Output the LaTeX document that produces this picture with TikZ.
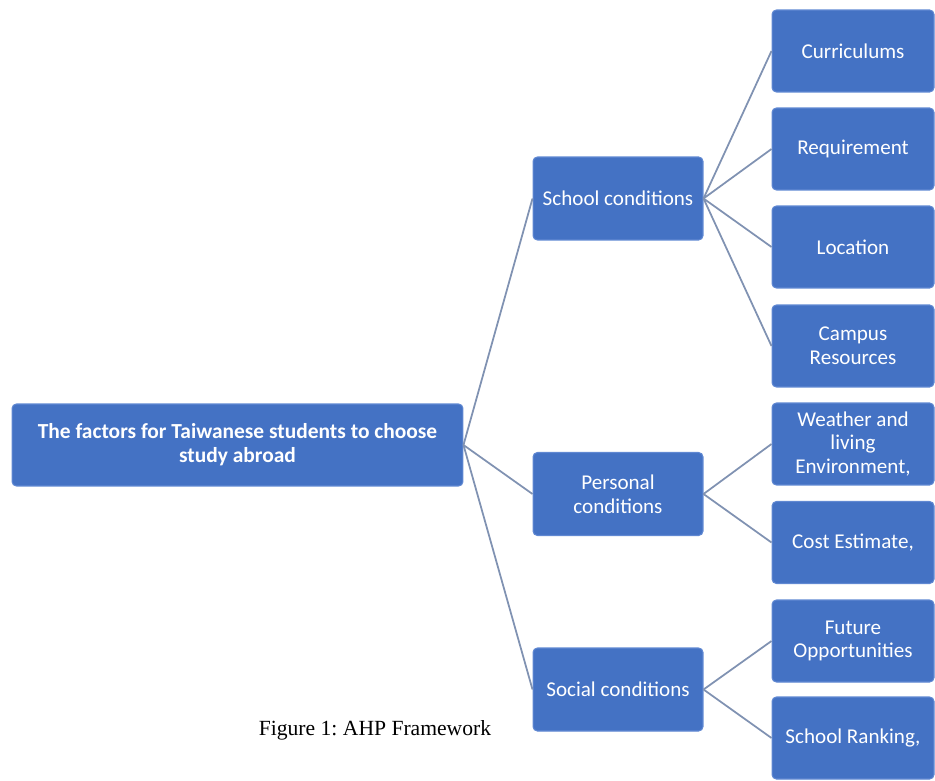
\documentclass[tikz,border=0pt]{standalone}
\usepackage{fontspec}
\setmainfont{Liberation Serif}
\newfontfamily\boxfont{Carlito}
\usetikzlibrary{positioning}
\definecolor{officeblue}{RGB}{68, 114, 196}
\definecolor{boxedge}{RGB}{96, 136, 210}
\definecolor{linkgray}{RGB}{128, 146, 178}
\frenchspacing

\tikzset{
  factorbox/.style={rectangle, rounded corners=2.5pt, fill=officeblue, draw=boxedge, line width=0.6pt,
    text=white, font=\boxfont\fontsize{12}{13.5}\selectfont, align=center, inner sep=2pt},
  rootbox/.style={factorbox, minimum width=9.02cm, minimum height=1.64cm,
    font=\boxfont\bfseries\fontsize{12.2}{13.5}\selectfont},
  midbox/.style={factorbox, minimum width=3.4cm, minimum height=1.66cm},
  leafbox/.style={factorbox, minimum width=3.24cm, minimum height=1.64cm},
  link/.style={draw=linkgray, line width=1pt}
}

\begin{document}
\begin{tikzpicture}[x=0.02cm, y=-0.02cm]
  \useasboundingbox (0,0) rectangle (935,780);

  % root
  \node[rootbox] (root) at (237.5,445) {The factors for Taiwanese students to choose\\study abroad};

  % second level
  \node[midbox] (school) at (618,198.5) {School conditions};
  \node[midbox] (personal) at (618,494) {Personal\\conditions};
  \node[midbox] (social) at (618,689.5) {Social conditions};

  % third level
  \node[leafbox] (curr) at (853,51) {Curriculums};
  \node[leafbox] (req) at (853,149) {Requirement};
  \node[leafbox] (loc) at (853,247) {Location};
  \node[leafbox] (campus) at (853,346) {Campus\\Resources};
  \node[leafbox] (weather) at (853,444) {Weather and\\living\\Environment,};
  \node[leafbox] (cost) at (853,542.5) {Cost Estimate,};
  \node[leafbox] (future) at (853,641) {Future\\Opportunities};
  \node[leafbox] (rank) at (853,738) {School Ranking,};

  % connectors
  \foreach \c in {school,personal,social}
    \draw[link] (root.east) -- (\c.west);
  \foreach \c in {curr,req,loc,campus}
    \draw[link] (school.east) -- (\c.west);
  \foreach \c in {weather,cost}
    \draw[link] (personal.east) -- (\c.west);
  \foreach \c in {future,rank}
    \draw[link] (social.east) -- (\c.west);

  % caption
  \node[font=\fontsize{12.3}{14}\selectfont] (caption) at (375,730) {Figure 1: AHP Framework};
\end{tikzpicture}
\end{document}
